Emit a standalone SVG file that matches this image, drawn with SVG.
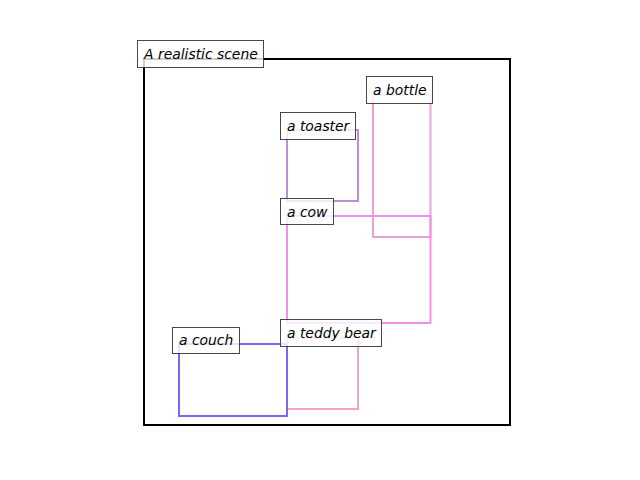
<svg xmlns="http://www.w3.org/2000/svg" width="640" height="480" viewBox="0 0 640 480">
<style>
.box{fill:none;stroke-width:2}
.lb{fill:#fff;fill-opacity:0.8;stroke:#333;stroke-opacity:0.9;stroke-width:1}
.t{font-family:"DejaVu Sans",sans-serif;font-style:oblique;font-size:13.9px;fill:#000}
</style>
<rect width="640" height="480" fill="#fff"/>
<g id="scene">
<rect x="144" y="59" width="366" height="366" fill="none" stroke="#000" stroke-width="2"/>
</g>
<g id="bottle"><rect class="box" x="373" y="95" width="57.5" height="142" stroke="#e8a2d8"/></g>
<g id="toaster"><rect class="box" x="287" y="130" width="71" height="71" stroke="#bf8fd6"/></g>
<g id="cow"><rect class="box" x="287" y="216" width="143.5" height="107" stroke="#ee90f0"/></g>
<g id="teddy-bear"><rect class="box" x="287" y="338" width="71" height="71" stroke="#f3a0cc"/></g>
<g id="couch"><rect class="box" x="179" y="344" width="108" height="72" stroke="#7b68ee"/></g>
<g id="labels">
<g id="label-scene"><rect class="lb" x="137.5" y="40.5" width="126" height="27"/><text class="t" x="144" y="58.5">A realistic scene</text></g>
<g id="label-bottle"><rect class="lb" x="366.5" y="76.5" width="66" height="27"/><text class="t" x="373" y="94.5">a bottle</text></g>
<g id="label-toaster"><rect class="lb" x="280.5" y="112.5" width="75" height="27"/><text class="t" x="287" y="130.5">a toaster</text></g>
<g id="label-cow"><rect class="lb" x="280.5" y="198.5" width="53" height="26"/><text class="t" x="287" y="216.5">a cow</text></g>
<g id="label-teddy"><rect class="lb" x="280.5" y="319.5" width="101" height="27"/><text class="t" x="287" y="337.5">a teddy bear</text></g>
<g id="label-couch"><rect class="lb" x="172.5" y="327.5" width="67" height="26"/><text class="t" x="179" y="344.5">a couch</text></g>
</g>
</svg>
